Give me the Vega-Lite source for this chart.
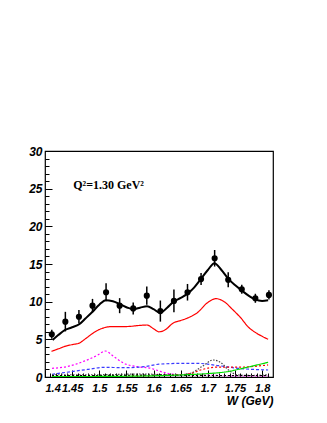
{
  "$schema": "https://vega.github.io/schema/vega-lite/v6.json",
  "autosize": {"type": "none"},
  "padding": {"left": 45, "top": 151, "right": 54, "bottom": 46},
  "width": 228,
  "height": 226,
  "config": {
    "view": {"stroke": "#000", "strokeWidth": 1.2},
    "axis": {"grid": false, "domain": false, "labelOverlap": false, "labelFont": "Liberation Sans", "labelFontWeight": "bold", "labelFontStyle": "italic", "labelFontSize": 11, "labelColor": "#000", "tickColor": "#000", "titleFont": "Liberation Sans", "titleFontWeight": "bold", "titleFontStyle": "italic", "titleFontSize": 12, "titleColor": "#000"}
  },
  "datasets": {
    "pts": [
      {"W": 1.4125, "v": 5.67, "e": 0.6},
      {"W": 1.4375, "v": 7.35, "e": 1.3},
      {"W": 1.4625, "v": 8.0, "e": 0.9},
      {"W": 1.4875, "v": 9.47, "e": 0.9},
      {"W": 1.5125, "v": 11.25, "e": 1.2},
      {"W": 1.5375, "v": 9.47, "e": 1.0},
      {"W": 1.5625, "v": 9.1, "e": 0.8},
      {"W": 1.5875, "v": 10.8, "e": 1.2},
      {"W": 1.6125, "v": 8.75, "e": 1.4},
      {"W": 1.6375, "v": 10.1, "e": 1.5},
      {"W": 1.6625, "v": 11.25, "e": 1.1},
      {"W": 1.6875, "v": 13.0, "e": 0.8},
      {"W": 1.7125, "v": 15.76, "e": 1.1},
      {"W": 1.7375, "v": 12.9, "e": 1.0},
      {"W": 1.7625, "v": 11.65, "e": 0.6},
      {"W": 1.7875, "v": 10.45, "e": 0.6},
      {"W": 1.8125, "v": 10.9, "e": 0.6}
    ],
    "fit": [
      {"W": 1.414, "v": 4.9}, {"W": 1.425, "v": 5.6}, {"W": 1.437, "v": 6.25}, {"W": 1.45, "v": 6.6},
      {"W": 1.463, "v": 7.0}, {"W": 1.475, "v": 7.8}, {"W": 1.488, "v": 8.7}, {"W": 1.5, "v": 9.6},
      {"W": 1.512, "v": 10.2}, {"W": 1.525, "v": 10.05}, {"W": 1.54, "v": 9.6}, {"W": 1.552, "v": 9.2},
      {"W": 1.563, "v": 9.0}, {"W": 1.575, "v": 9.2}, {"W": 1.588, "v": 9.4}, {"W": 1.6, "v": 9.0},
      {"W": 1.612, "v": 8.5}, {"W": 1.625, "v": 9.2}, {"W": 1.637, "v": 10.0}, {"W": 1.65, "v": 10.5},
      {"W": 1.665, "v": 11.2}, {"W": 1.675, "v": 11.9}, {"W": 1.686, "v": 12.9}, {"W": 1.7, "v": 14.2},
      {"W": 1.712, "v": 15.1}, {"W": 1.725, "v": 14.2}, {"W": 1.737, "v": 13.1}, {"W": 1.75, "v": 12.2},
      {"W": 1.762, "v": 11.5}, {"W": 1.775, "v": 10.8}, {"W": 1.787, "v": 10.3}, {"W": 1.8, "v": 10.1},
      {"W": 1.811, "v": 10.2}
    ],
    "comp": [
      {"c": "red", "W": 1.412, "v": 3.4}, {"c": "red", "W": 1.425, "v": 3.75}, {"c": "red", "W": 1.438, "v": 4.1},
      {"c": "red", "W": 1.45, "v": 4.3}, {"c": "red", "W": 1.463, "v": 4.5}, {"c": "red", "W": 1.475, "v": 5.1},
      {"c": "red", "W": 1.488, "v": 5.8}, {"c": "red", "W": 1.5, "v": 6.3}, {"c": "red", "W": 1.512, "v": 6.6},
      {"c": "red", "W": 1.525, "v": 6.7}, {"c": "red", "W": 1.55, "v": 6.7}, {"c": "red", "W": 1.575, "v": 6.85},
      {"c": "red", "W": 1.588, "v": 6.9}, {"c": "red", "W": 1.6, "v": 6.4}, {"c": "red", "W": 1.61, "v": 6.0},
      {"c": "red", "W": 1.62, "v": 6.2}, {"c": "red", "W": 1.637, "v": 7.2}, {"c": "red", "W": 1.65, "v": 7.5},
      {"c": "red", "W": 1.665, "v": 7.9}, {"c": "red", "W": 1.68, "v": 8.5}, {"c": "red", "W": 1.7, "v": 9.9},
      {"c": "red", "W": 1.715, "v": 10.4}, {"c": "red", "W": 1.73, "v": 10.0}, {"c": "red", "W": 1.745, "v": 9.0},
      {"c": "red", "W": 1.76, "v": 7.9}, {"c": "red", "W": 1.775, "v": 6.6}, {"c": "red", "W": 1.79, "v": 5.8},
      {"c": "red", "W": 1.8, "v": 5.4}, {"c": "red", "W": 1.811, "v": 5.0},

      {"c": "magenta", "W": 1.413, "v": 1.15}, {"c": "magenta", "W": 1.44, "v": 1.37}, {"c": "magenta", "W": 1.472, "v": 2.1},
      {"c": "magenta", "W": 1.497, "v": 2.9}, {"c": "magenta", "W": 1.511, "v": 3.45}, {"c": "magenta", "W": 1.527, "v": 2.7},
      {"c": "magenta", "W": 1.546, "v": 1.8}, {"c": "magenta", "W": 1.57, "v": 1.37}, {"c": "magenta", "W": 1.595, "v": 1.15},
      {"c": "magenta", "W": 1.61, "v": 0.8}, {"c": "magenta", "W": 1.625, "v": 0.5}, {"c": "magenta", "W": 1.64, "v": 0.35},
      {"c": "magenta", "W": 1.66, "v": 0.3}, {"c": "magenta", "W": 1.7, "v": 0.25}, {"c": "magenta", "W": 1.75, "v": 0.15},
      {"c": "magenta", "W": 1.811, "v": 0.15},

      {"c": "blue", "W": 1.413, "v": 0.36}, {"c": "blue", "W": 1.447, "v": 0.7}, {"c": "blue", "W": 1.478, "v": 1.0},
      {"c": "blue", "W": 1.509, "v": 1.28}, {"c": "blue", "W": 1.546, "v": 1.24}, {"c": "blue", "W": 1.583, "v": 1.37},
      {"c": "blue", "W": 1.61, "v": 1.7}, {"c": "blue", "W": 1.646, "v": 1.8}, {"c": "blue", "W": 1.683, "v": 1.8},
      {"c": "blue", "W": 1.72, "v": 1.5}, {"c": "blue", "W": 1.756, "v": 1.15}, {"c": "blue", "W": 1.811, "v": 0.93},

      {"c": "reddot", "W": 1.413, "v": 0.12}, {"c": "reddot", "W": 1.5, "v": 0.15}, {"c": "reddot", "W": 1.6, "v": 0.2},
      {"c": "reddot", "W": 1.65, "v": 0.3}, {"c": "reddot", "W": 1.67, "v": 0.5}, {"c": "reddot", "W": 1.69, "v": 1.0},
      {"c": "reddot", "W": 1.714, "v": 1.3}, {"c": "reddot", "W": 1.754, "v": 1.3}, {"c": "reddot", "W": 1.811, "v": 1.6},

      {"c": "gray", "W": 1.413, "v": 0.3}, {"c": "gray", "W": 1.5, "v": 0.3}, {"c": "gray", "W": 1.58, "v": 0.4},
      {"c": "gray", "W": 1.64, "v": 0.25}, {"c": "gray", "W": 1.664, "v": 0.4}, {"c": "gray", "W": 1.689, "v": 1.37},
      {"c": "gray", "W": 1.71, "v": 2.26}, {"c": "gray", "W": 1.726, "v": 1.8}, {"c": "gray", "W": 1.738, "v": 0.93},
      {"c": "gray", "W": 1.756, "v": 0.27}, {"c": "gray", "W": 1.78, "v": 0.2}, {"c": "gray", "W": 1.811, "v": 0.3},

      {"c": "black", "W": 1.413, "v": 0.2}, {"c": "black", "W": 1.5, "v": 0.2}, {"c": "black", "W": 1.6, "v": 0.25},
      {"c": "black", "W": 1.7, "v": 0.2}, {"c": "black", "W": 1.811, "v": 0.2},

      {"c": "green", "W": 1.413, "v": 0.05}, {"c": "green", "W": 1.55, "v": 0.1}, {"c": "green", "W": 1.62, "v": 0.2},
      {"c": "green", "W": 1.66, "v": 0.3}, {"c": "green", "W": 1.7, "v": 0.45}, {"c": "green", "W": 1.735, "v": 0.7},
      {"c": "green", "W": 1.77, "v": 1.25}, {"c": "green", "W": 1.811, "v": 1.95}
    ],
    "label": [{"W": 1.452, "v": 25, "t": "Q²=1.30 GeV²"}]
  },
  "resolve": {"axis": {"x": "independent", "y": "independent"}},
  "layer": [
    {
      "data": {"name": "comp"},
      "mark": {"type": "line", "strokeWidth": 1.2, "interpolate": "monotone", "clip": true},
      "encoding": {
        "x": {"field": "W", "type": "quantitative", "scale": {"domain": [1.4, 1.82], "nice": false, "zero": false},
              "axis": {"orient": "bottom", "values": [1.4, 1.45, 1.5, 1.55, 1.6, 1.65, 1.7, 1.75, 1.8], "format": ".2~f", "tickSize": -7, "labelPadding": 12, "title": "W (GeV)", "titleAnchor": "end", "titleAlign": "right", "titlePadding": 2}},
        "y": {"field": "v", "type": "quantitative", "scale": {"domain": [0, 30], "nice": false},
              "axis": {"orient": "left", "values": [0, 5, 10, 15, 20, 25, 30], "format": "d", "tickSize": -7, "labelPadding": 10, "labelFontSize": 12, "title": null}},
        "color": {"field": "c", "type": "nominal", "legend": null,
                  "scale": {"domain": ["red", "magenta", "blue", "reddot", "gray", "black", "green"], "range": ["#ff0000", "#ff00ff", "#3a3aff", "#ff0000", "#444444", "#000000", "#00dd00"]}},
        "strokeDash": {"field": "c", "type": "nominal", "legend": null,
                  "scale": {"domain": ["red", "magenta", "blue", "reddot", "gray", "black", "green"], "range": [[1, 0], [2, 2], [3, 2], [2, 2], [1.5, 1.5], [2, 2], [1, 0]]}}
      }
    },
    {
      "data": {"name": "fit"},
      "mark": {"type": "line", "color": "#000", "strokeWidth": 2, "interpolate": "monotone"},
      "encoding": {
        "x": {"field": "W", "type": "quantitative",
              "axis": {"orient": "bottom", "values": [1.41, 1.42, 1.43, 1.44, 1.46, 1.47, 1.48, 1.49, 1.51, 1.52, 1.53, 1.54, 1.56, 1.57, 1.58, 1.59, 1.61, 1.62, 1.63, 1.64, 1.66, 1.67, 1.68, 1.69, 1.71, 1.72, 1.73, 1.74, 1.76, 1.77, 1.78, 1.79, 1.81], "labels": false, "tickSize": -4, "title": null}},
        "y": {"field": "v", "type": "quantitative",
              "axis": {"orient": "left", "values": [1, 2, 3, 4, 6, 7, 8, 9, 11, 12, 13, 14, 16, 17, 18, 19, 21, 22, 23, 24, 26, 27, 28, 29], "labels": false, "tickSize": -4, "title": null}}
      }
    },
    {
      "data": {"name": "pts"},
      "transform": [{"calculate": "datum.v - datum.e", "as": "lo"}, {"calculate": "datum.v + datum.e", "as": "hi"}],
      "mark": {"type": "rule", "color": "#000", "strokeWidth": 1.5},
      "encoding": {
        "x": {"field": "W", "type": "quantitative", "axis": null},
        "y": {"field": "lo", "type": "quantitative", "axis": null},
        "y2": {"field": "hi"}
      }
    },
    {
      "data": {"name": "pts"},
      "mark": {"type": "point", "filled": true, "shape": "circle", "size": 38, "color": "#000", "opacity": 1},
      "encoding": {
        "x": {"field": "W", "type": "quantitative", "axis": null},
        "y": {"field": "v", "type": "quantitative", "axis": null}
      }
    },
    {
      "data": {"name": "label"},
      "mark": {"type": "text", "font": "Liberation Serif", "fontWeight": "bold", "fontSize": 12, "align": "left", "baseline": "alphabetic", "color": "#000"},
      "encoding": {
        "x": {"field": "W", "type": "quantitative", "axis": null},
        "y": {"field": "v", "type": "quantitative", "axis": null},
        "text": {"field": "t"}
      }
    }
  ]
}
